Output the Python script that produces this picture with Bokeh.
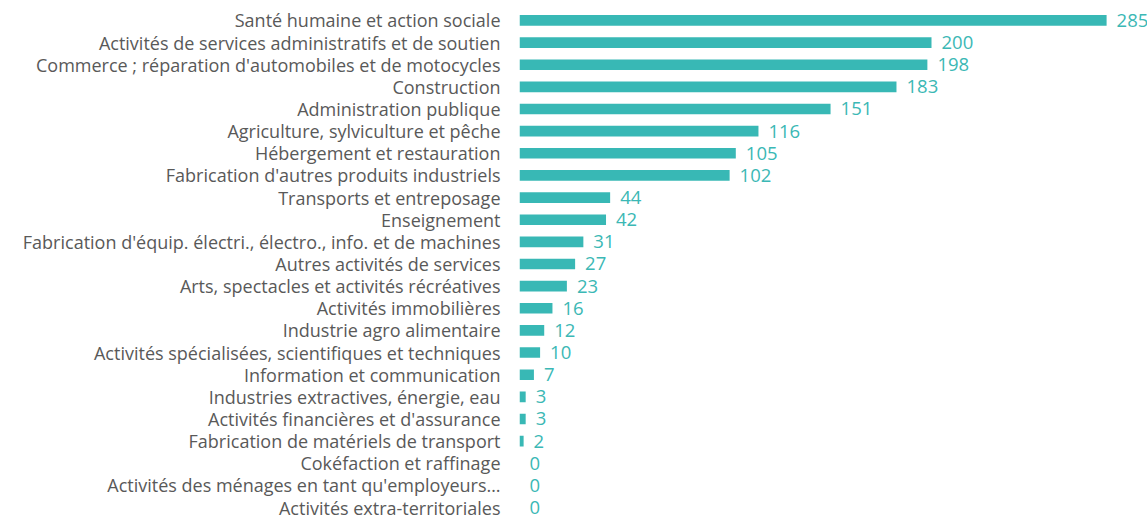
from bokeh.plotting import figure
from bokeh.models import Range1d, FixedTicker, ColumnDataSource
from bokeh.core.properties import value
from bokeh.embed import file_html
from bokeh.resources import INLINE

categories = [
    "Santé humaine et action sociale",
    "Activités de services administratifs et de soutien",
    "Commerce ; réparation d'automobiles et de motocycles",
    "Construction",
    "Administration publique",
    "Agriculture, sylviculture et pêche",
    "Hébergement et restauration",
    "Fabrication d'autres produits industriels",
    "Transports et entreposage",
    "Enseignement",
    "Fabrication d'équip. électri., électro., info. et de machines",
    "Autres activités de services",
    "Arts, spectacles et activités récréatives",
    "Activités immobilières",
    "Industrie agro alimentaire",
    "Activités spécialisées, scientifiques et techniques",
    "Information et communication",
    "Industries extractives, énergie, eau",
    "Activités financières et d'assurance",
    "Fabrication de matériels de transport",
    "Cokéfaction et raffinage",
    "Activités des ménages en tant qu'employeurs…",
    "Activités extra-territoriales",
]
values = [285, 200, 198, 183, 151, 116, 105, 102, 44, 42, 31, 27, 23, 16, 12, 10, 7, 3, 3, 2, 0, 0, 0]

n = len(categories)
ypos = [n - 1 - i for i in range(n)]
src = ColumnDataSource(dict(y=ypos, v=values, lab=[str(v) for v in values]))

BAR = "#38B8B5"
W, H = 1147, 521
left = 519

p = figure(width=W, height=H, output_backend="svg", toolbar_location=None,
           x_range=Range1d(0, (W - left) / 2.06),
           y_range=Range1d(-0.63, n - 1 + 0.9),
           min_border_left=left, min_border_right=0,
           min_border_top=0, min_border_bottom=0)

p.hbar(y="y", right="v", left=0, height=0.48, fill_color=BAR, line_color=None,
       line_width=0, source=src)
p.text(x="v", y="y", text="lab", x_offset=10, text_baseline="middle", text_align="left",
       text_color="#3BB8B5", text_font=value("Open Sans"), text_font_size="18.5px", source=src)

p.xaxis.visible = False
p.xgrid.visible = False
p.ygrid.visible = False
p.outline_line_color = None

ax = p.yaxis[0]
ax.ticker = FixedTicker(ticks=ypos)
ax.major_label_overrides = {y: c for y, c in zip(ypos, categories)}
ax.axis_line_color = None
ax.major_tick_line_color = None
ax.minor_tick_line_color = None
ax.major_tick_out = 0
ax.major_tick_in = 0
ax.major_label_standoff = 19
ax.major_label_text_font = "Open Sans"
ax.major_label_text_font_size = "18px"
ax.major_label_text_color = "#595959"

open("out.html", "w").write(file_html(p, INLINE))
